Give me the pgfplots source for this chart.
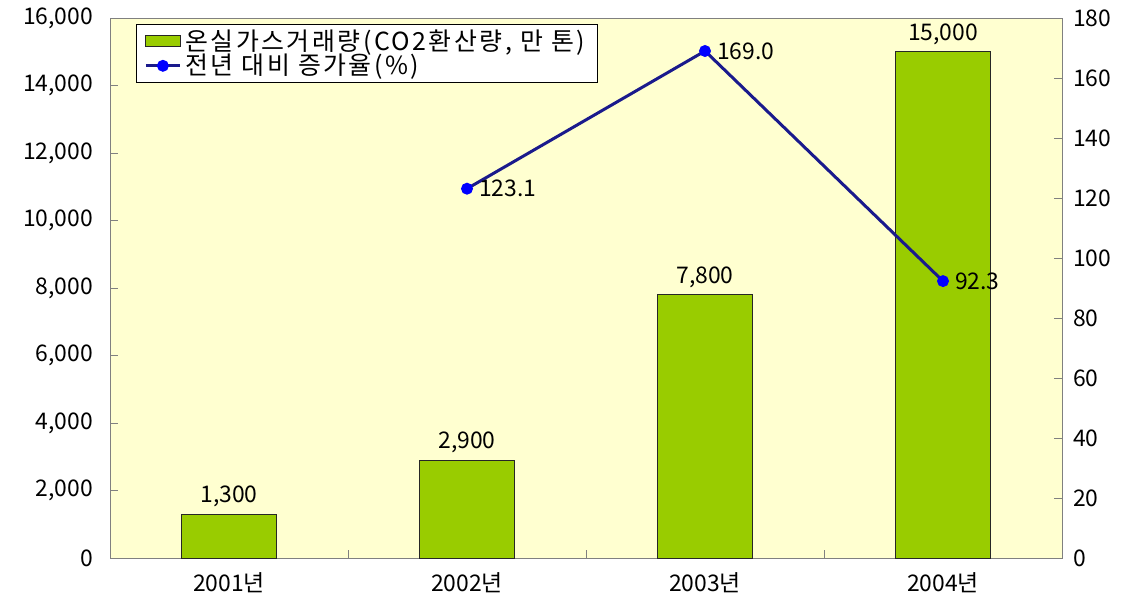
\documentclass[border=0pt]{standalone}
\usepackage{pgfplots}
\pgfplotsset{compat=1.18}
\usepackage{fontspec}
\setmainfont{Noto Sans CJK KR}
\definecolor{bg}{HTML}{FFFFD0}
\definecolor{barg}{HTML}{99CC00}
\definecolor{navyl}{HTML}{1A1A8C}
\definecolor{axgray}{HTML}{808080}
\pgfplotsset{/pgf/number format/assume math mode=true}
\begin{document}
\begin{tikzpicture}[font=\fontsize{11.5}{13}\selectfont]
\begin{axis}[
  name=main,
  scale only axis, width=476bp, height=270bp,
  xmin=-0.5, xmax=3.5, ymin=0, ymax=16000,
  axis background/.style={fill=bg},
  axis line style={draw=axgray},
  every tick/.style={draw=axgray},
  ytick={0,2000,...,16000}, ytick pos=left,
  scaled y ticks=false,
  yticklabel style={/pgf/number format/1000 sep={,}, xshift=-5bp},
  major tick length=4bp, tick align=inside,
  xtick={0,1,2,3}, xticklabels={2001년,2002년,2003년,2004년},
  xtick style={draw=none},
  xtick pos=bottom,
  xticklabel style={yshift=-4bp},
  extra x ticks={0.5,1.5,2.5}, extra x tick labels={},
  extra x tick style={xtick style={draw=axgray}},
]
\addplot[ybar, bar width=0.4, fill=barg, draw=black!85,
  nodes near coords,
  nodes near coords style={/pgf/number format/1000 sep={,}, text=black, yshift=0bp},
] coordinates {(0,1300) (1,2900) (2,7800) (3,15000)};
\end{axis}
\begin{axis}[
  scale only axis, width=476bp, height=270bp,
  xmin=-0.5, xmax=3.5, ymin=0, ymax=180,
  axis y line*=right, axis x line=none,
  axis line style={draw=axgray},
  every tick/.style={draw=axgray},
  major tick length=4bp, tick align=inside,
  ytick={0,20,...,180},
  yticklabel style={xshift=2bp},
  legend style={at={(0,1)}, anchor=north west, xshift=13bp, yshift=-3bp,
    draw=black, fill=white, font=\fontsize{12.5}{13}\selectfont\addfontfeatures{LetterSpace=10},
    inner xsep=4bp, inner ysep=0.5bp, row sep=-3.5bp},
  legend cell align=left,
]
\addlegendimage{area legend, fill=barg, draw=black!85}
\addlegendentry{온실가스거래량(CO2환산량, 만 톤)}
\addplot[navyl, line width=1.5bp, mark=*, mark options={fill=blue, draw=blue}, mark size=2.2bp,
  nodes near coords,
  nodes near coords style={/pgf/number format/.cd, fixed, precision=1, zerofill, /tikz/.cd, anchor=west, xshift=2bp, text=black},
] coordinates {(1,123.1) (2,169.0) (3,92.3)};
\addlegendentry{전년 대비 증가율(\%)}
\end{axis}
\pgfresetboundingbox
\path (-55bp,-25bp) rectangle (512.5bp,279bp);
\end{tikzpicture}
\end{document}
